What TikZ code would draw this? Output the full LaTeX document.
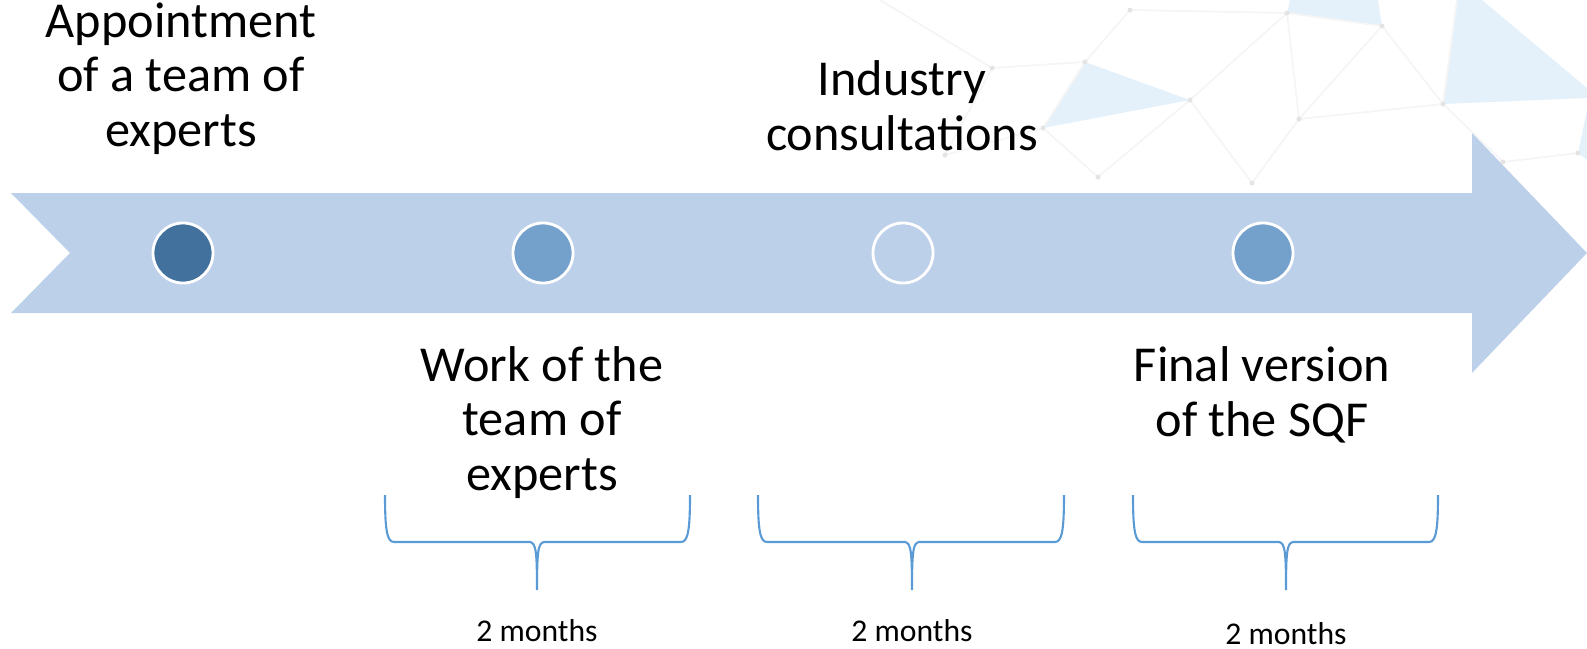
\documentclass[tikz,border=0pt]{standalone}
\usepackage{fontspec}
\setmainfont{Carlito}
\usepackage{xcolor}
\definecolor{bandblue}{HTML}{BDD0E9}
\definecolor{darkdot}{HTML}{41719C}
\definecolor{middot}{HTML}{74A0CC}
\definecolor{bracecol}{HTML}{5B9BD5}
\definecolor{meshblue}{HTML}{E4F1FB}
\definecolor{meshline}{HTML}{F5F5F5}
\definecolor{meshdot}{HTML}{E4E4E4}

\tikzset{
  stage/.style={circle,draw=white,line width=0.8pt,minimum size=0.6cm,inner sep=0pt},
  milestone/.style={align=center,anchor=base,font=\fontsize{14.3}{15.4}\selectfont,inner sep=0pt},
  span/.style={anchor=base,font=\fontsize{9}{11}\selectfont,inner sep=0pt},
  timebrace/.style={draw=bracecol,line width=0.6pt}
}

\begin{document}
\begin{tikzpicture}[x=0.01cm,y=-0.01cm]
  \useasboundingbox (0,0) rectangle (1587,648);

  % faint mesh in the upper right corner
  \fill[meshblue] (1290,0) -- (1378,0) -- (1382,26) -- (1287,13) -- cycle;
  \fill[meshblue] (1085,62) -- (1190,100) -- (1043,128) -- cycle;
  \fill[meshblue] (1443,104) -- (1457,0) -- (1482,0) -- (1587,88) -- (1587,98) -- cycle;
  \fill[meshblue] (1587,110) -- (1578,153) -- (1587,160) -- cycle;
  \draw[meshline,line width=0.5pt]
    (1130,10) -- (1287,13) -- (1382,26) -- (1443,104) -- (1503,162) -- (1578,153)
    (1287,13) -- (1190,100) -- (1252,183)
    (1287,13) -- (1299,119) -- (1382,26)
    (1299,119) -- (1443,104) -- (1457,0)
    (1299,119) -- (1252,183)
    (1085,62) -- (1130,10)
    (1085,62) -- (992,68) -- (945,155) -- (1043,128) -- (1098,177)
    (1190,100) -- (1098,177)
    (992,68) -- (880,0)
    (1043,128) -- (1085,62);
  \foreach \p in {(1130,10),(1287,13),(1382,26),(1190,100),(1299,119),(1252,183),
                  (1443,104),(1503,162),(1578,153),(992,68),(1085,62),(1043,128),
                  (945,155),(1098,177)}
    \fill[meshdot] \p circle (2.5);

  % timeline band
  \fill[bandblue] (11,193) -- (1472,193) -- (1472,133) -- (1587,253) -- (1472,373)
    -- (1472,313) -- (11,313) -- (70,253) -- cycle;

  \node[stage,fill=darkdot] (c1) at (183,253) {};
  \node[stage,fill=middot] (c2) at (543,253) {};
  \node[stage] (c3) at (903,253) {};
  \node[stage,fill=middot] (c4) at (1263,253) {};

  \node[milestone] (appoint) at (181,146) {Appointment\\of a team of\\experts};
  \node[milestone] (consult) at (902,150) {Industry\\consultations};
  \node[milestone] (work) at (542,490) {Work of the\\team of\\experts};
  \node[milestone] (final) at (1262,436) {Final version\\of the SQF};

  % braces under the stages
  \foreach \a/\m/\b/\n/\y in {385/537/690/1/641,758/912/1064/2/641,1133/1286/1438/3/644}{
    \draw[timebrace] (\a,495) .. controls (\a,530) and (\a+2,542) .. (\a+9,542)
      -- (\m-7,542) .. controls (\m-1,543) and (\m,552) .. (\m,590)
      .. controls (\m,552) and (\m+1,543) .. (\m+7,542)
      -- (\b-9,542) .. controls (\b-2,542) and (\b,530) .. (\b,495);
    \node[span] (m\n) at (\m,\y) {2 months};
  }
\end{tikzpicture}
\end{document}
